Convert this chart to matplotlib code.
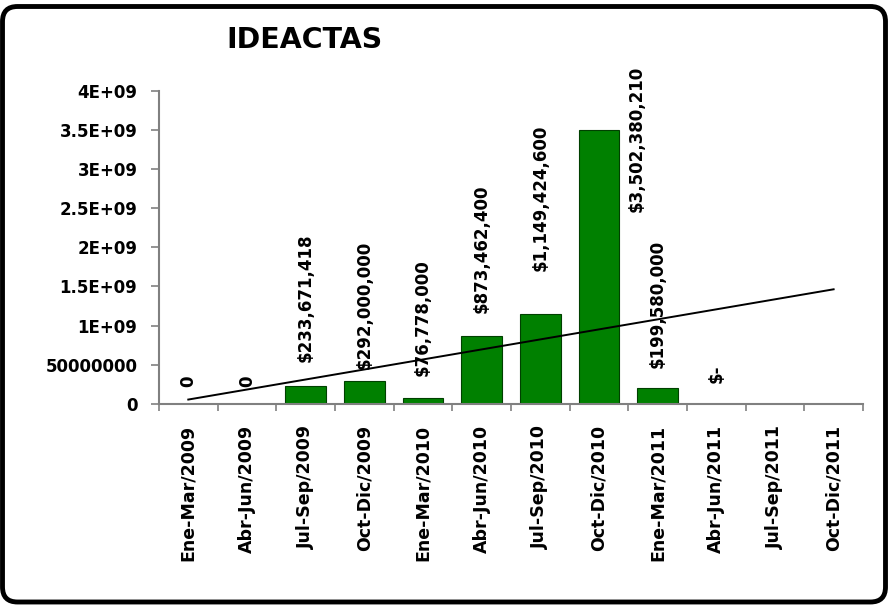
import numpy as np
import matplotlib
matplotlib.use('Agg')
import matplotlib.pyplot as plt
from matplotlib.patches import FancyBboxPatch

plt.rcParams['font.family'] = ['DejaVu Sans']
plt.rcParams['font.weight'] = 'bold'

# datos
periodos = ['Ene-Mar/2009', 'Abr-Jun/2009', 'Jul-Sep/2009', 'Oct-Dic/2009',
            'Ene-Mar/2010', 'Abr-Jun/2010', 'Jul-Sep/2010', 'Oct-Dic/2010',
            'Ene-Mar/2011', 'Abr-Jun/2011', 'Jul-Sep/2011', 'Oct-Dic/2011']
montos = [0, 0, 233671418, 292000000, 76778000, 873462400, 1149424600,
          3502380210, 199580000, 0, np.nan, np.nan]
etiquetas = ['0', '0', '$233,671,418', '$292,000,000', '$76,778,000',
             '$873,462,400', '$1,149,424,600', '$3,502,380,210',
             '$199,580,000', '$-', '', '']
yticks = [0, 5e8, 1e9, 1.5e9, 2e9, 2.5e9, 3e9, 3.5e9, 4e9]
ytick_labels = ['0', '50000000', '1E+09', '1.5E+09', '2E+09', '2.5E+09',
                '3E+09', '3.5E+09', '4E+09']
titulo = 'IDEACTAS'

# separacion (pt) entre barra y etiqueta, como la deja Excel
sep_etiqueta = [12, 12, 17, 9, 16, 16, 31, 0, 15, 15, 0, 0]

fig = plt.figure(figsize=(8.88, 6.05), dpi=100)
ax = fig.add_axes([0.179, 0.3322, 0.7928, 0.518])

x = np.arange(len(periodos))
y = np.array(montos, dtype=float)
ax.bar(x, np.nan_to_num(y), width=0.69, color='#008000', edgecolor='#004000', linewidth=0.8, zorder=2)

# linea de tendencia (lineal) sobre los puntos con dato
ok = ~np.isnan(y)
m, b = np.polyfit(x[ok], y[ok], 1)
ax.plot(x, m * x + b, color='black', linewidth=1.4, zorder=3)

# etiquetas de datos
for i, (val, txt) in enumerate(zip(y, etiquetas)):
    if not txt:
        continue
    val = 0 if np.isnan(val) else val
    if val > 3e9:
        # la etiqueta grande queda corrida a la derecha de la barra
        ax.annotate(txt, (i, val), xytext=(27, -6.5), textcoords='offset points',
                    rotation=90, ha='center', va='center', fontsize=12,
                    fontweight='bold', annotation_clip=False, zorder=4)
    else:
        ax.annotate(txt, (i, val), xytext=(0, sep_etiqueta[i]), textcoords='offset points',
                    rotation=90, ha='center', va='bottom', fontsize=12,
                    fontweight='bold', annotation_clip=False, zorder=4)

ax.set_xlim(-0.5, len(periodos) - 0.5)
ax.set_ylim(0, 4e9)
ax.set_yticks(yticks)
ax.set_yticklabels(ytick_labels, fontsize=12, fontweight='bold')
ax.set_xticks(x)
ax.set_xticklabels(periodos, rotation=90, fontsize=12.5, fontweight='bold')
ax.set_xticks(np.arange(-0.5, len(periodos)), minor=True)

ax.tick_params(axis='x', which='major', length=0, pad=15)
ax.tick_params(axis='x', which='minor', length=5, color='#808080', width=1.2)
ax.tick_params(axis='y', length=6, color='#808080', width=1.2, pad=9.5)

for s in ['top', 'right']:
    ax.spines[s].set_visible(False)
for s in ['left', 'bottom']:
    ax.spines[s].set_color('#808080')
    ax.spines[s].set_linewidth(1.5)

fig.text(0.343, 0.934, titulo, ha='center', va='center', fontsize=20.5, fontweight='bold')

# marco redondeado
marco = FancyBboxPatch((0.025, 0.03), 8.83, 5.955, boxstyle='round,pad=0,rounding_size=0.15',
                       transform=fig.dpi_scale_trans, fill=False, edgecolor='black',
                       linewidth=3.5, zorder=10)
fig.patches.append(marco)

fig.savefig('out.png', dpi=100)
